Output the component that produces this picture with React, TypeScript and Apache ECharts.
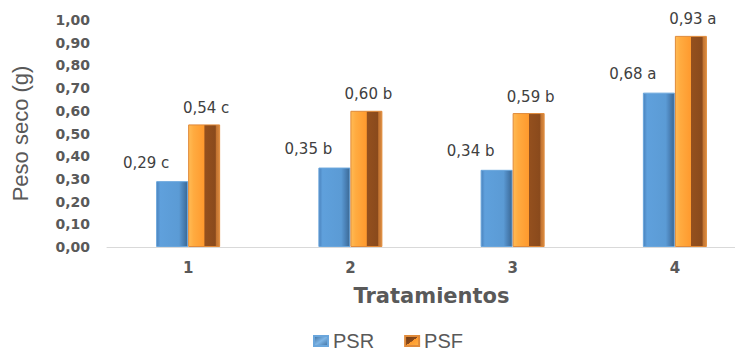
import React, { useEffect, useRef } from "react";
import * as echarts from "echarts";

const categories = ["1", "2", "3", "4"];
const psrValues = [0.29, 0.35, 0.34, 0.68];
const psfValues = [0.54, 0.6, 0.59, 0.93];
const psrLetters = ["c", "b", "b", "a"];
const psfLetters = ["c", "b", "b", "a"];
const yTicks = [0, 0.1, 0.2, 0.3, 0.4, 0.5, 0.6, 0.7, 0.8, 0.9, 1.0];

const fmt = (v: number) => v.toFixed(2).replace(".", ",");

export default function App() {
  const ref = useRef<HTMLDivElement>(null);
  useEffect(() => {
    if (!ref.current) return;
    const chart = echarts.init(ref.current, undefined, { renderer: "svg" });
    const blue = new echarts.graphic.LinearGradient(0, 0, 1, 0, [
      { offset: 0, color: "#4a82bc" },
      { offset: 0.12, color: "#5fa0dc" },
      { offset: 0.72, color: "#5b9bd5" },
      { offset: 0.82, color: "#4f88bf" },
      { offset: 1, color: "#3a6894" },
    ]);
    const orange = new echarts.graphic.LinearGradient(0, 0, 1, 0, [
      { offset: 0, color: "#ffbb55" },
      { offset: 0.16, color: "#ffab40" },
      { offset: 0.5, color: "#ff9a2e" },
      { offset: 0.52, color: "#94501e" },
      { offset: 0.86, color: "#8a4a1c" },
      { offset: 0.9, color: "#c47532" },
      { offset: 1, color: "#d88a40" },
    ]);
    const blueLegend = new echarts.graphic.LinearGradient(0, 0, 1, 1, [
      { offset: 0, color: "#3c6e9f" },
      { offset: 0.5, color: "#7fb6e6" },
      { offset: 1, color: "#3c6e9f" },
    ]);
    const orangeLegend = new echarts.graphic.LinearGradient(0, 0, 1, 1, [
      { offset: 0, color: "#6b3812" },
      { offset: 0.5, color: "#8a4a1c" },
      { offset: 0.51, color: "#ff9a2e" },
      { offset: 1, color: "#ffb347" },
    ]);
    chart.setOption({
      animation: false,
      grid: { left: 107, top: 20, bottom: 105, width: 649, outerBoundsMode: "none" },
      legend: {
        top: 326,
        left: 308,
        itemWidth: 14,
        itemHeight: 10,
        itemGap: 30,
        icon: "rect",
        textStyle: { fontSize: 20, color: "#595959", fontFamily: "Liberation Sans" },
        data: [
          { name: "PSR", itemStyle: { color: blueLegend } },
          { name: "PSF", itemStyle: { color: orangeLegend } },
        ],
      },
      xAxis: {
        type: "category",
        data: categories,
        name: "Tratamientos",
        nameLocation: "middle",
        nameGap: 38,
        nameTextStyle: { fontSize: 21, fontWeight: "bold", color: "#595959", fontFamily: "DejaVu Sans" },
        axisLine: { lineStyle: { color: "#d9d9d9" } },
        axisTick: { show: false },
        axisLabel: { margin: 13, fontSize: 15, fontWeight: "bold", color: "#595959", fontFamily: "DejaVu Sans" },
      },
      yAxis: {
        type: "value",
        min: 0,
        max: 1,
        interval: 0.1,
        name: "Peso seco (g)",
        nameLocation: "middle",
        nameGap: 76,
        nameTextStyle: { fontSize: 22, color: "#595959", fontFamily: "Liberation Sans" },
        splitLine: { show: false },
        axisLine: { show: false },
        axisTick: { show: false },
        axisLabel: {
          margin: 17,
          fontSize: 14,
          fontWeight: "bold",
          color: "#595959",
          fontFamily: "DejaVu Sans",
          formatter: (v: number) => {
            const t = yTicks.find((x) => Math.abs(x - v) < 1e-6);
            return fmt(t ?? v);
          },
        },
      },
      series: [
        {
          name: "PSR",
          type: "bar",
          data: psrValues,
          barWidth: 32,
          barGap: "0%",
          itemStyle: { color: blue, borderColor: "#6aa6dc", borderWidth: 1 },
          label: {
            show: true,
            position: "top",
            distance: 11,
            offset: [-26, 0],
            fontSize: 15,
            color: "#404040",
            fontFamily: "DejaVu Sans",
            formatter: (p: any) => `${fmt(p.value)} ${psrLetters[p.dataIndex]}`,
          },
        },
        {
          name: "PSF",
          type: "bar",
          data: psfValues,
          barWidth: 32,
          itemStyle: { color: orange, borderColor: "#e08a3a", borderWidth: 1 },
          label: {
            show: true,
            position: "top",
            distance: 9,
            offset: [2, 0],
            fontSize: 15,
            color: "#404040",
            fontFamily: "DejaVu Sans",
            formatter: (p: any) => `${fmt(p.value)} ${psfLetters[p.dataIndex]}`,
          },
        },
      ],
    });
    return () => chart.dispose();
  }, []);
  return <div ref={ref} style={{ width: 743, height: 352, marginLeft: -8, marginTop: -8 }} />;
}
